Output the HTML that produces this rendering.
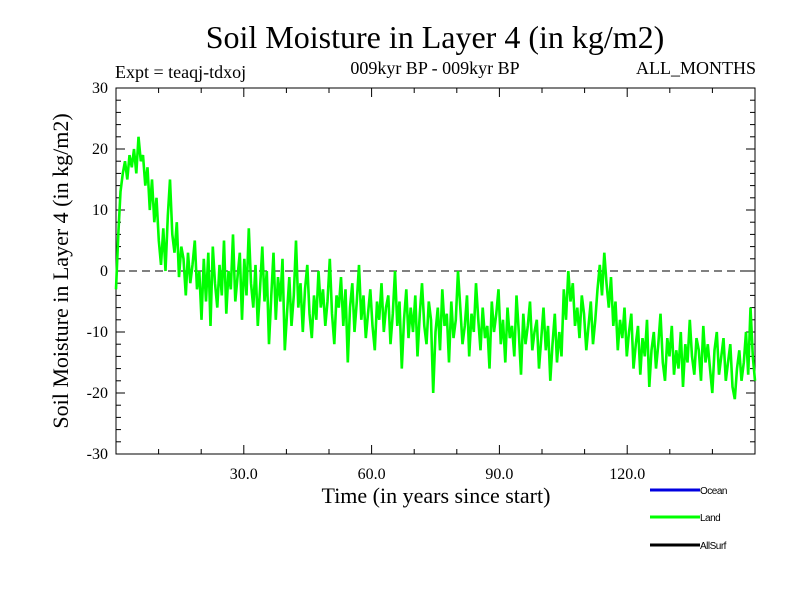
<!DOCTYPE html>
<html><head><meta charset="utf-8"><style>
body{margin:0;background:#fff}
svg text{font-family:"Liberation Serif",serif}
svg text.sans{font-family:"Liberation Sans",sans-serif}
</style></head><body>
<svg id="c" width="800" height="600" xmlns="http://www.w3.org/2000/svg">
<text x="435" y="48" font-size="32" text-anchor="middle">Soil Moisture in Layer 4 (in kg/m2)</text>
<text x="115" y="78" font-size="18">Expt = teaqj-tdxoj</text>
<text x="435" y="74" font-size="18" text-anchor="middle">009kyr BP - 009kyr BP</text>
<text x="756" y="74" font-size="18" text-anchor="end">ALL_MONTHS</text>
<text x="436" y="503" font-size="22" text-anchor="middle">Time (in years since start)</text>
<text transform="translate(68,271) rotate(-90)" font-size="22" text-anchor="middle">Soil Moisture in Layer 4 (in kg/m2)</text>
<g id="ax"></g>
<g id="ser"></g>
<g>
<line x1="650" y1="490" x2="700" y2="490" stroke="#0000e0" stroke-width="3"/><text class="sans" x="700" y="494" font-size="10" letter-spacing="-0.5">Ocean</text>
<line x1="650" y1="517" x2="700" y2="517" stroke="#00ff00" stroke-width="3"/><text class="sans" x="700" y="521" font-size="10" letter-spacing="-0.5">Land</text>
<line x1="650" y1="545" x2="700" y2="545" stroke="#000" stroke-width="3"/><text class="sans" x="700" y="549" font-size="10" letter-spacing="-0.5">AllSurf</text>
</g>
</svg>
<script>
const xTicks=[30,60,90,120];
const xTickLabels=["30.0","60.0","90.0","120.0"];
const yTicks=[-30,-20,-10,0,10,20,30];
const land=[-3,6,13,16,18,15,19,17,20,16,22,18,19,14,17,10,15,8,12,5,1,7,0,9,15,6,3,8,-1,4,2,-4,3,-2,1,5,-3,0,-8,2,-5,3,-9,4,-2,-6,1,-4,5,-7,0,-3,6,-5,-1,3,-8,2,-4,7,-2,-6,1,-9,-3,4,-5,0,-12,-4,3,-8,-1,-5,2,-13,-7,-1,-9,-4,5,-6,-2,-10,-3,1,-7,-11,-4,-8,0,-6,-3,-9,-5,2,-7,-12,-4,-6,-1,-9,-3,-15,-6,-2,-10,-5,1,-8,-4,-11,-7,-3,-9,-13,-5,-8,-2,-10,-6,-4,-12,-7,0,-9,-5,-16,-8,-3,-11,-6,-10,-4,-14,-7,-2,-9,-12,-5,-8,-20,-10,-6,-13,-3,-9,-7,-15,-5,-11,-8,0,-6,-12,-9,-4,-14,-7,-10,-2,-8,-13,-6,-11,-9,-16,-5,-10,-7,-3,-12,-8,-15,-6,-11,-9,-14,-4,-10,-17,-7,-12,-9,-5,-13,-10,-8,-16,-11,-6,-13,-9,-18,-12,-7,-15,-10,-14,-3,-8,0,-5,-2,-9,-6,-11,-4,-7,-13,-9,-5,-12,-8,-3,1,-4,3,-2,-6,-1,-9,-5,-13,-8,-11,-6,-14,-10,-7,-16,-12,-9,-17,-11,-14,-8,-19,-13,-10,-16,-12,-7,-15,-18,-11,-14,-9,-17,-13,-16,-10,-19,-12,-15,-8,-14,-17,-11,-13,-18,-9,-15,-12,-16,-20,-13,-10,-17,-14,-11,-18,-15,-12,-19,-21,-16,-13,-18,-15,-10,-17,-6,-14,-18];
const xMin=0,xMax=150,yMin=-30,yMax=30,L=116,R=755,T=88,B=454;
const sx=v=>L+(v-xMin)/(xMax-xMin)*(R-L), sy=v=>B-(v-yMin)/(yMax-yMin)*(B-T);
const NS="http://www.w3.org/2000/svg";
function mk(t,a,p){const e=document.createElementNS(NS,t);for(const k in a)e.setAttribute(k,a[k]);p.appendChild(e);return e;}
const ax=document.getElementById('ax'),ser=document.getElementById('ser');
const fr=mk('rect',{x:L,y:T,width:R-L,height:B-T,fill:'none',stroke:'#000','stroke-width':1},ax);


for(let v=10;v<xMax;v+=10){const big=v%30===0,len=big?9:5;
mk('line',{x1:sx(v),x2:sx(v),y1:B,y2:B-len,stroke:'#000'},ax);mk('line',{x1:sx(v),x2:sx(v),y1:T,y2:T+len,stroke:'#000'},ax);}
for(let v=yMin;v<=yMax;v+=2){const big=v%10===0,len=big?9:5;
mk('line',{x1:L,x2:L+len,y1:sy(v),y2:sy(v),stroke:'#000'},ax);mk('line',{x1:R,x2:R-len,y1:sy(v),y2:sy(v),stroke:'#000'},ax);}
xTicks.forEach((v,i)=>{const t=mk('text',{x:sx(v),y:B+25,'font-size':16,'text-anchor':'middle'},ax);t.textContent=xTickLabels[i];

});
yTicks.forEach(v=>{const t=mk('text',{x:L-8,y:sy(v)+5,'font-size':16,'text-anchor':'end'},ax);t.textContent=String(v);

});
const z=mk('line',{x1:L,x2:R,y1:sy(0),y2:sy(0),stroke:'#000','stroke-dasharray':'8,5'},ax);


const n=land.length;
const pts=land.map((v,i)=>sx(xMin+i*(xMax-xMin)/(n-1)).toFixed(1)+','+sy(v).toFixed(1)).join(' ');
const pl=mk('polyline',{points:pts,fill:'none',stroke:'#00ff00','stroke-width':2.6,'stroke-linejoin':'miter'},ser);


</script>
</body></html>
